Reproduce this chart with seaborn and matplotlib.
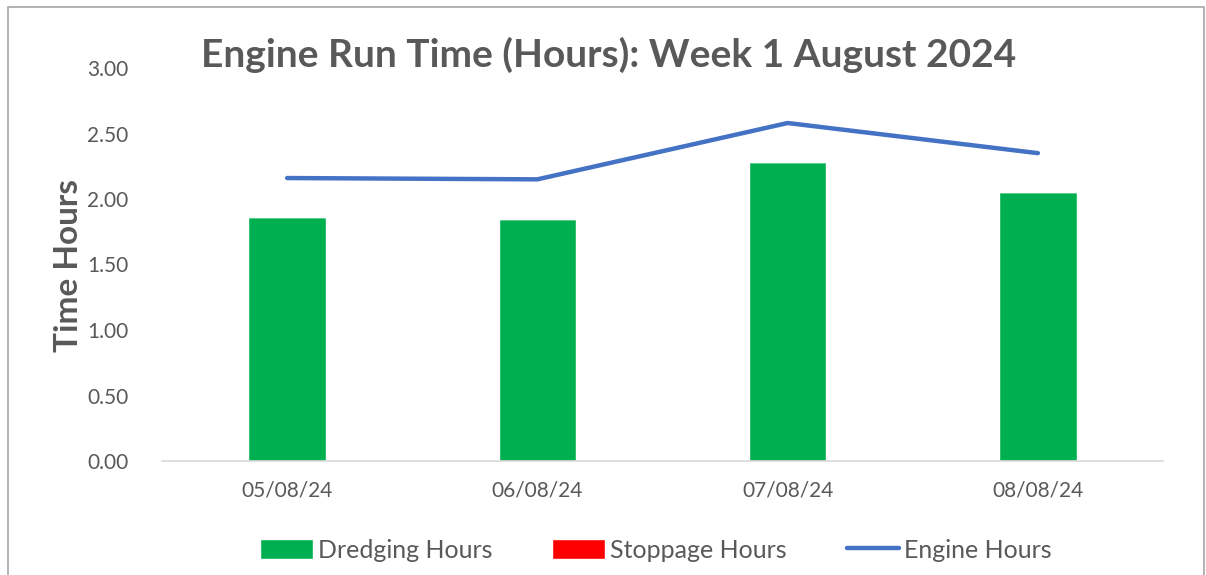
import matplotlib
matplotlib.use("Agg")
import matplotlib.pyplot as plt
import seaborn as sns
import pandas as pd
from matplotlib.patches import Patch, Rectangle
from matplotlib.lines import Line2D

dates = ["05/08/24", "06/08/24", "07/08/24", "08/08/24"]
dredging_hours = [1.86, 1.85, 2.28, 2.05]
stoppage_hours = [0.0, 0.0, 0.0, 0.0]
engine_hours = [2.16, 2.15, 2.58, 2.35]
yticks = [0.0, 0.5, 1.0, 1.5, 2.0, 2.5, 3.0]

GREEN = "#00B050"
RED = "#FF0000"
BLUE = "#4472C4"
GRAY = "#595959"

sns.set_theme(style="white")
plt.rcParams["font.family"] = ["Lato", "DejaVu Sans"]

df = pd.DataFrame({"date": dates, "dredging": dredging_hours,
                   "stoppage": stoppage_hours, "engine": engine_hours})

fig = plt.figure(figsize=(12.06, 5.75), dpi=100)
ax = fig.add_axes([162/1206, 1-461/575, (1163-162)/1206, (461-68)/575])

sns.barplot(data=df, x="date", y="dredging", color=GREEN, width=0.31,
            saturation=1, ax=ax, errorbar=None)
sns.barplot(data=df, x="date", y="stoppage", color=RED, width=0.31,
            saturation=1, ax=ax, errorbar=None, bottom=df["dredging"])
sns.pointplot(data=df, x="date", y="engine", color=BLUE, markers="",
              linestyles="-", errorbar=None, ax=ax)
for ln in ax.lines:
    ln.set_linewidth(3.2)
    ln.set_solid_capstyle("round")
    ln.set_solid_joinstyle("round")

ax.set_xlim(-0.5, 3.5)
ax.set_ylim(0, 3.0)
ax.set_yticks(yticks)
ax.set_yticklabels([f"{v:.2f}" for v in yticks])
ax.tick_params(axis="both", length=0, labelsize=15, labelcolor=GRAY)
ax.tick_params(axis="y", pad=24)
ax.tick_params(axis="x", pad=14)
for s in ["top", "right", "left"]:
    ax.spines[s].set_visible(False)
ax.spines["bottom"].set_color("#D9D9D9")
ax.spines["bottom"].set_linewidth(1.2)
ax.set_xlabel("")
ax.set_ylabel("Time Hours", fontsize=24, fontweight="bold", color=GRAY)
ax.yaxis.set_label_coords(-0.079, (461-266)/393)
ax.grid(False)

fig.text(609/1206, 1-55/575, "Engine Run Time (Hours): Week 1 August 2024",
         ha="center", va="center", fontsize=28, fontweight="bold", color=GRAY)

handles = [Patch(facecolor=GREEN, label="Dredging Hours"),
           Patch(facecolor=RED, label="Stoppage Hours"),
           Line2D([0], [0], color=BLUE, lw=3.2, label="Engine Hours")]
fig.legend(handles=handles, loc="center", bbox_to_anchor=(656/1206, 1-550/575),
           ncol=3, frameon=False, fontsize=18, labelcolor=GRAY,
           handlelength=2.1, handleheight=0.85, handletextpad=0.2, columnspacing=2.4)

fig.add_artist(Rectangle((8/1206, -0.05), (1204-8)/1206, 1.05-7/575,
                         transform=fig.transFigure, fill=False,
                         edgecolor="#A6A6A6", linewidth=1.2))

fig.savefig("out.png", dpi=100)
